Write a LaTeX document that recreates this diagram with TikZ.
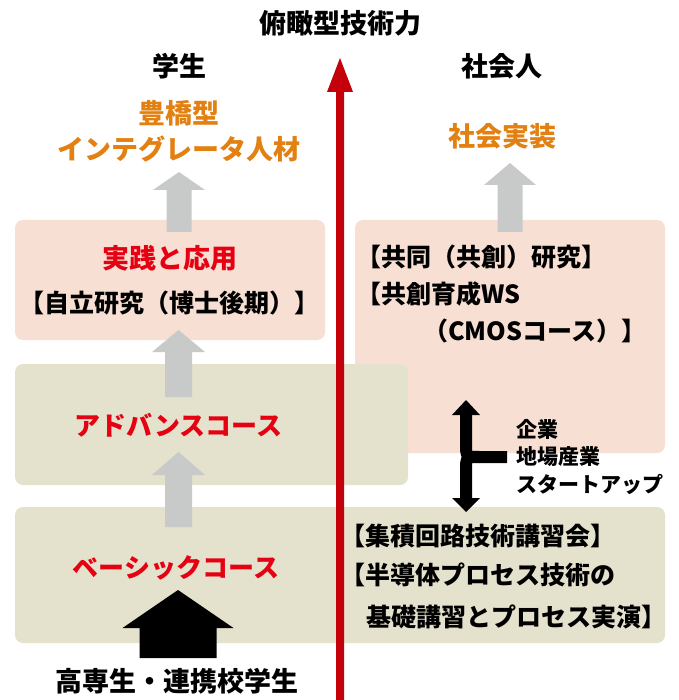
\documentclass[tikz,border=0pt]{standalone}
\usepackage{fontspec}
\setmainfont{Noto Sans CJK JP}
\definecolor{pinkc}{RGB}{248,223,211}
\definecolor{beigec}{RGB}{228,225,205}
\definecolor{grayc}{RGB}{200,201,201}
\definecolor{redarrow}{RGB}{196,0,11}
\definecolor{redtext}{RGB}{229,0,18}
\definecolor{orangec}{RGB}{226,128,18}
\tikzset{
  panelpink/.style={fill=pinkc, rounded corners=8pt},
  panelbeige/.style={fill=beigec, rounded corners=8pt},
  txt/.style={inner sep=0pt, font=\fontsize{27}{32}\selectfont\bfseries},
  brtxt/.style={inner sep=0pt, font=\fontsize{25}{30}\selectfont\bfseries},
  smalltxt/.style={inner sep=0pt, font=\fontsize{21}{25}\selectfont\bfseries},
  headred/.style={txt, text=redtext},
  katared/.style={inner sep=0pt, font=\fontsize{26}{30}\selectfont\bfseries, text=redtext},
  headorange/.style={txt, text=orangec},
}
\newcommand{\BlkArrow}[7]{%
  \fill[#1] ({#2-#7},#5) -- ({#2-#7},#4) -- ({#2-#6},#4) -- (#2,#3)
    -- ({#2+#6},#4) -- ({#2+#7},#4) -- ({#2+#7},#5) -- cycle;}
\begin{document}
\begin{tikzpicture}[x=1pt,y=-1pt]
\useasboundingbox (0,0) rectangle (678,700);
% panels
\fill[panelpink] (355,220) rectangle (665,453);
\fill[panelpink] (15,220) rectangle (325,340);
\fill[panelbeige] (15,364) rectangle (408,485);
\fill[panelbeige] (15,507) rectangle (665,643);
% gray arrows
\BlkArrow{grayc}{179}{172}{190}{232}{26}{12.5}
\BlkArrow{grayc}{510}{163}{185}{232}{26}{12.5}
\BlkArrow{grayc}{178.5}{330}{352}{397}{26.5}{13.5}
\BlkArrow{grayc}{178.5}{452}{475}{527}{26.5}{13.5}
% black bottom arrow
\BlkArrow{black}{178}{590}{628}{658}{55.5}{38.5}
% red axis arrow
\BlkArrow{redarrow}{340}{58}{92}{700}{13}{4}
% right double arrow
\coordinate (jt) at (466,415);
\coordinate (jb) at (466,498);
\coordinate (jr) at (507,457);
\draw[line width=12pt] (jt) -- (466,443) .. controls (466,457) .. (480,457) -- (jr);
\draw[line width=12pt] (jb) -- (466,471) .. controls (466,457) .. (480,457);
\fill (452,415) -- (480,415) -- (466,400) -- cycle;
\fill (452,498) -- (480,498) -- (466,512) -- cycle;
% texts
\node[txt] (title) at (340,23.5) {俯瞰型技術力};
\node[txt] (gakusei) at (179,66) {学生};
\node[txt] (shakaijin) at (502,66) {社会人};
\node[headorange] (toyo1) at (179,113.5) {豊橋型};
\node[headorange] (toyo2) at (179,148.5) {インテグレータ人材};
\node[headorange] (jisso) at (502,136) {社会実装};
\node[headred] (jissen) at (170,258.5) {実践と応用};
\node[brtxt] (jiritsu) at (169,303.5) {【自立研究（博士後期）】};
\node[brtxt, anchor=west] (kyodo) at (356,257) {【共同（共創）研究】};
\node[brtxt, anchor=west] (kyoso) at (356,294) {【共創育成WS};
\node[brtxt, anchor=west] (cmos) at (423,331) {（CMOSコース）】};
\node[katared] (advance) at (178.5,425) {アドバンスコース};
\node[katared] (basic) at (176,568) {ベーシックコース};
\node[brtxt, anchor=west] (shuseki) at (340,536) {【集積回路技術講習会】};
\node[brtxt, anchor=west] (handotai) at (340,575) {【半導体プロセス技術の};
\node[brtxt, anchor=west] (kiso) at (366,617) {基礎講習とプロセス実演】};
\node[smalltxt, anchor=west] (kigyo) at (516,429) {企業};
\node[smalltxt, anchor=west] (jiba) at (516,457) {地場産業};
\node[smalltxt, anchor=west] (startup) at (516,484) {スタートアップ};
\node[txt] (kosen) at (177,681.5) {高専生・連携校学生};
\end{tikzpicture}
\end{document}
